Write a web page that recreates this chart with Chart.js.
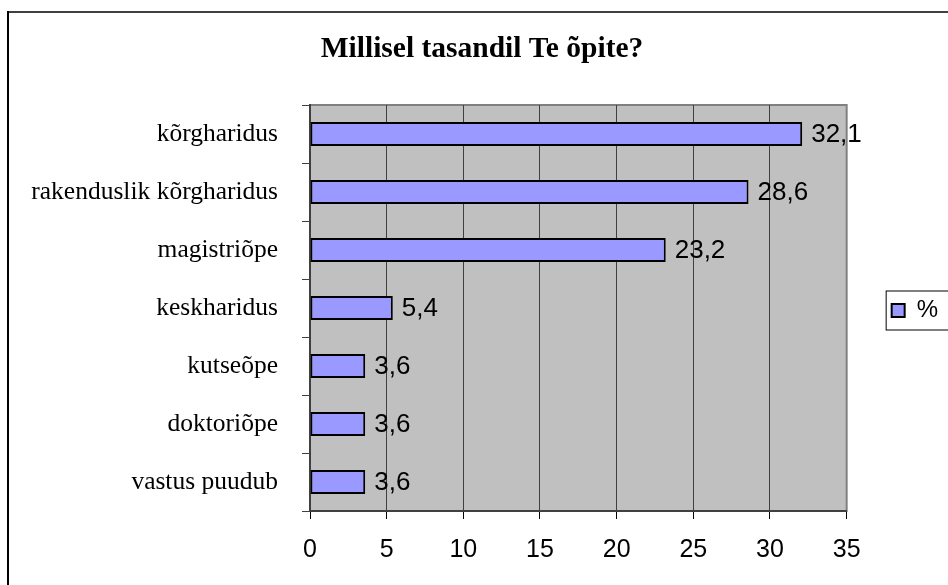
<!DOCTYPE html>
<html>
<head>
<meta charset="utf-8">
<script src="https://cdn.jsdelivr.net/npm/chart.js@4"></script>
<style>
  html, body { margin: 0; padding: 0; background: #fff; }
  #wrap { width: 948px; height: 585px; }
</style>
</head>
<body>
<div id="wrap"><canvas id="chart"></canvas></div>
<script>
// andmed
const categories = ['kõrgharidus', 'rakenduslik kõrgharidus', 'magistriõpe', 'keskharidus', 'kutseõpe', 'doktoriõpe', 'vastus puudub'];
const values = [32.1, 28.6, 23.2, 5.4, 3.6, 3.6, 3.6];
const seriesLabel = '%';
const titleText = 'Millisel tasandil Te õpite?';
const xMin = 0, xMax = 35, xStep = 5;

// hall taust + raam joonisealale
const plotBg = {
  id: 'plotBg',
  beforeDraw(chart) {
    const { ctx, chartArea: a } = chart;
    ctx.save();
    ctx.fillStyle = '#c0c0c0';
    ctx.fillRect(a.left, a.top, a.right - a.left, a.bottom - a.top);
    ctx.strokeStyle = '#808080';
    ctx.lineWidth = 2;
    ctx.strokeRect(a.left, a.top, a.right - a.left, a.bottom - a.top);
    ctx.restore();
  },
  afterDraw(chart) {
    const { ctx, width, height } = chart;
    ctx.save();
    // välimine raam (ülemine ja vasak serv)
    ctx.strokeStyle = '#404040';
    ctx.lineWidth = 2;
    ctx.beginPath();
    ctx.moveTo(7, 12); ctx.lineTo(width, 12);
    ctx.stroke();
    ctx.strokeStyle = '#000';
    ctx.beginPath();
    ctx.moveTo(8, 11); ctx.lineTo(8, height);
    ctx.stroke();
    // legendi kast
    const hb = chart.legend.legendHitBoxes[0];
    if (hb) {
      ctx.strokeStyle = '#000';
      ctx.lineWidth = 1;
      ctx.strokeRect(hb.left - 5.5, hb.top - 7.5, width - hb.left + 10, hb.height + 15);
    }
    ctx.restore();
  }
};

// väärtused tulpade kõrvale
const barLabels = {
  id: 'barLabels',
  afterDatasetsDraw(chart) {
    const { ctx } = chart;
    const meta = chart.getDatasetMeta(0);
    ctx.save();
    ctx.font = '26px "Liberation Sans", Arial, sans-serif';
    ctx.fillStyle = '#000';
    ctx.textAlign = 'left';
    ctx.textBaseline = 'middle';
    meta.data.forEach((bar, i) => {
      ctx.fillText(String(values[i]).replace('.', ','), bar.x + 9, bar.y + 1);
    });
    ctx.restore();
  }
};

Chart.defaults.color = '#000';

new Chart(document.getElementById('chart').getContext('2d'), {
  type: 'bar',
  data: {
    labels: categories,
    datasets: [{
      label: seriesLabel,
      data: values,
      backgroundColor: '#9999ff',
      borderColor: '#000',
      borderWidth: 2,
      borderSkipped: false,
      barPercentage: 0.41,
      categoryPercentage: 1
    }]
  },
  options: {
    indexAxis: 'y',
    responsive: true,
    maintainAspectRatio: false,
    animation: false,
    layout: { padding: { left: 16, right: 0, top: 0, bottom: 0 } },
    plugins: {
      title: {
        display: true,
        text: titleText,
        color: '#000',
        font: { family: '"Liberation Serif", "Times New Roman", serif', size: 29.5, weight: 'bold', lineHeight: 1.2 },
        padding: { top: 32, bottom: 37.6 }
      },
      legend: {
        position: 'right',
        // tühi pealkiri nihutab legendi allapoole
        title: { display: true, text: ' ', font: { size: 12, lineHeight: 1.2 }, padding: 10.8 },
        labels: {
          boxWidth: 13,
          boxHeight: 13,
          padding: 45,
          color: '#000',
          font: { family: '"Liberation Sans", Arial, sans-serif', size: 24 }
        }
      },
      tooltip: { enabled: false }
    },
    scales: {
      x: {
        min: xMin,
        max: xMax,
        ticks: {
          stepSize: xStep,
          padding: 16,
          color: '#000',
          font: { family: '"Liberation Sans", Arial, sans-serif', size: 25 }
        },
        grid: {
          color: ctx => ctx.tick && ctx.tick.value === xMax ? '#808080' : '#404040',
          lineWidth: 1,
          tickLength: 8,
          tickColor: '#000'
        },
        border: { display: true, color: '#404040', width: 2 },
        afterFit(scale) { scale.height = 74; }
      },
      y: {
        ticks: {
          padding: 24,
          color: '#000',
          font: { family: '"Liberation Serif", "Times New Roman", serif', size: 25.5 }
        },
        grid: {
          drawOnChartArea: false,
          tickLength: 8,
          color: '#404040'
        },
        border: { display: true, color: '#404040', width: 2 },
        afterFit(scale) { scale.width = 294; }
      }
    }
  },
  plugins: [plotBg, barLabels]
});
</script>
</body>
</html>
